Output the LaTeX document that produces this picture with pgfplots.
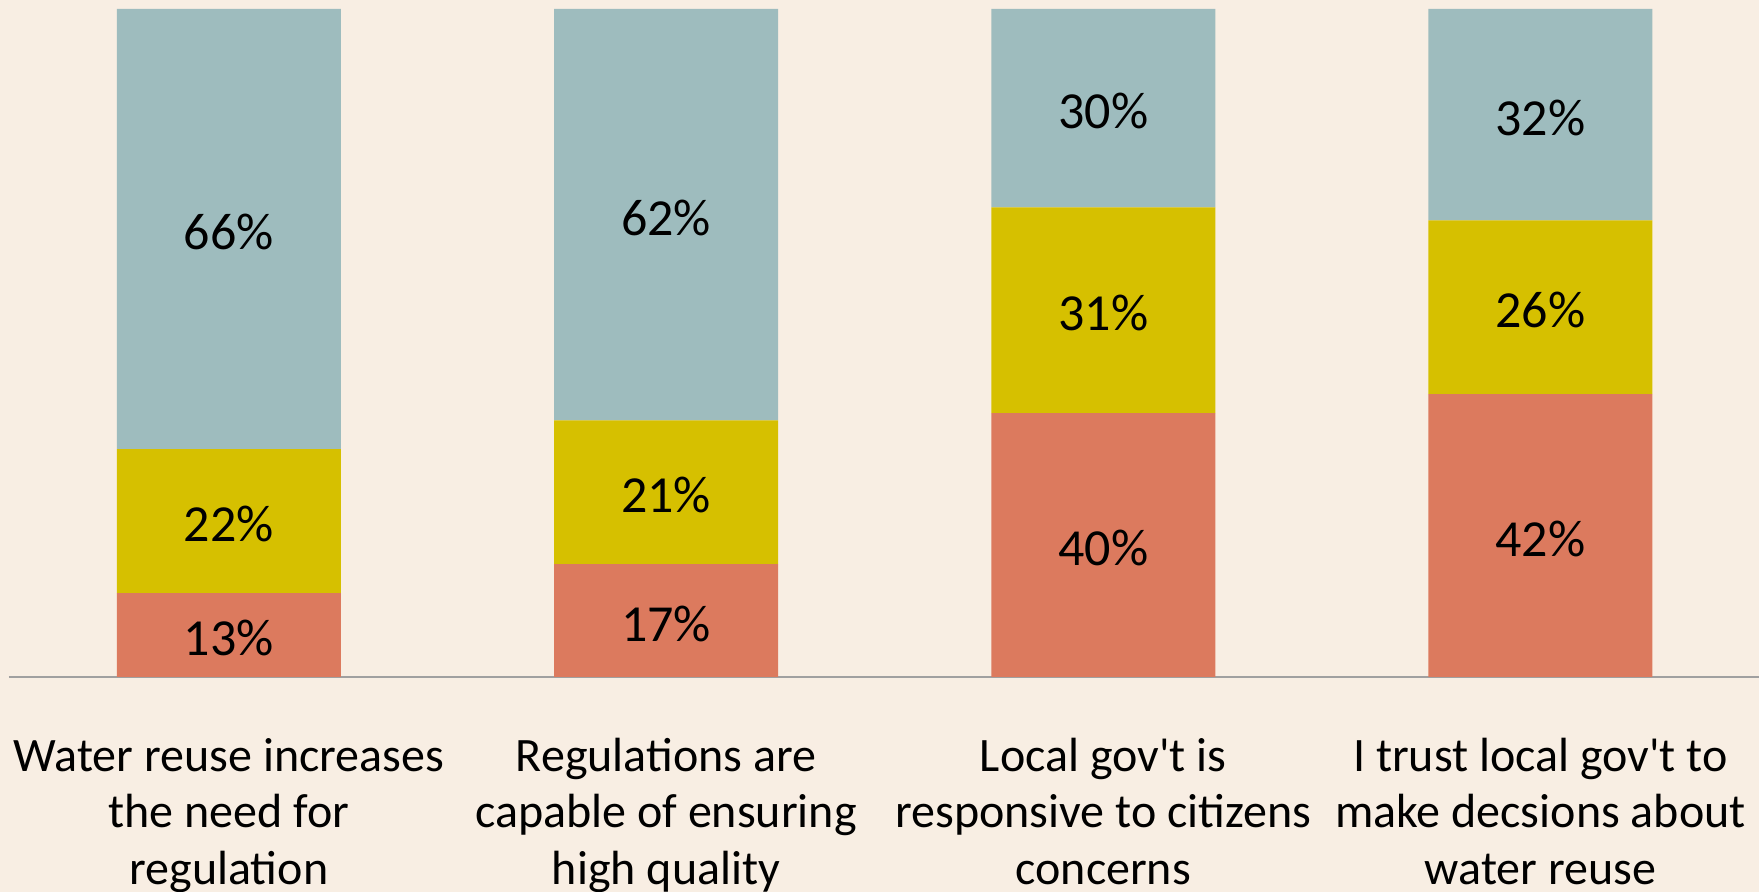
\documentclass[border=0pt]{standalone}
\usepackage{pgfplots}
\pgfplotsset{compat=1.18}
\usepackage{pgfplotstable}
\usepackage{fontspec}
\setmainfont{Carlito}

\definecolor{bg}{HTML}{F8EEE3}
\definecolor{cblue}{HTML}{9EBCBE}
\definecolor{cyel}{HTML}{D6C000}
\definecolor{cred}{HTML}{DC7A5E}
\definecolor{axgray}{HTML}{A0A0A0}

% shares per bar (100% stacked)
\pgfplotstableread{
x  red    yellow  blue
0  12.56  21.54   65.90
1  16.90  21.50   61.60
2  39.50  30.80   29.70
3  42.34  26.03   31.63
}\shares

% label positions: middle of each segment
\pgfplotstableread{
x  y      lab
0  6.28   13
0  23.31  22
0  67.05  66
1  8.45   17
1  27.65  21
1  69.20  62
2  19.75  40
2  54.90  31
2  85.15  30
3  21.17  42
3  55.36  26
3  84.19  32
}\labels

\newcommand{\ap}{\textquotesingle}

\begin{document}
\begin{tikzpicture}
\useasboundingbox (0,0) rectangle (879.5pt,446pt);
\fill[bg] (0,0) rectangle (879.5pt,446pt);

\pgfplotsset{
  chartgeom/.style={
    scale only axis,
    at={(4.5pt,107.5pt)}, anchor=south west,
    width=875pt, height=334pt,
    xmin=-0.503, xmax=3.5,
    ymin=0, ymax=100,
  }
}

\begin{axis}[chartgeom,
    ybar stacked,
    bar width=112pt,
    axis y line=none,
    axis x line*=bottom,
    x axis line style={axgray, line width=1.2pt, -},
    xtick={0,1,2,3},
    major tick length=0pt,
    xticklabels={
      {Water reuse increases\\the need for\\regulation},
      {Regulations are\\capable of ensuring\\high quality},
      {Local gov\ap t is\\responsive to citizens\\concerns},
      {I trust local gov\ap t to\\make decsions about\\water reuse}},
    xticklabel style={font=\fontsize{24}{28}\selectfont, align=center,
      anchor=base, yshift=-103.5pt, inner sep=0pt},
  ]
  \addplot[fill=cred, draw=none] table[x=x, y=red] {\shares};
  \addplot[fill=cyel, draw=none] table[x=x, y=yellow] {\shares};
  \addplot[fill=cblue, draw=none] table[x=x, y=blue] {\shares};
\end{axis}

\begin{axis}[chartgeom, hide axis]
  \addplot[draw=none, mark=none,
    nodes near coords={\pgfplotspointmeta\%},
    point meta=explicit symbolic,
    every node near coord/.append style={anchor=center, yshift=-1.5pt,
      font=\fontsize{26}{31}\selectfont, text=black, inner sep=0pt},
  ] table[x=x, y=y, meta=lab] {\labels};
\end{axis}
\end{tikzpicture}
\end{document}
